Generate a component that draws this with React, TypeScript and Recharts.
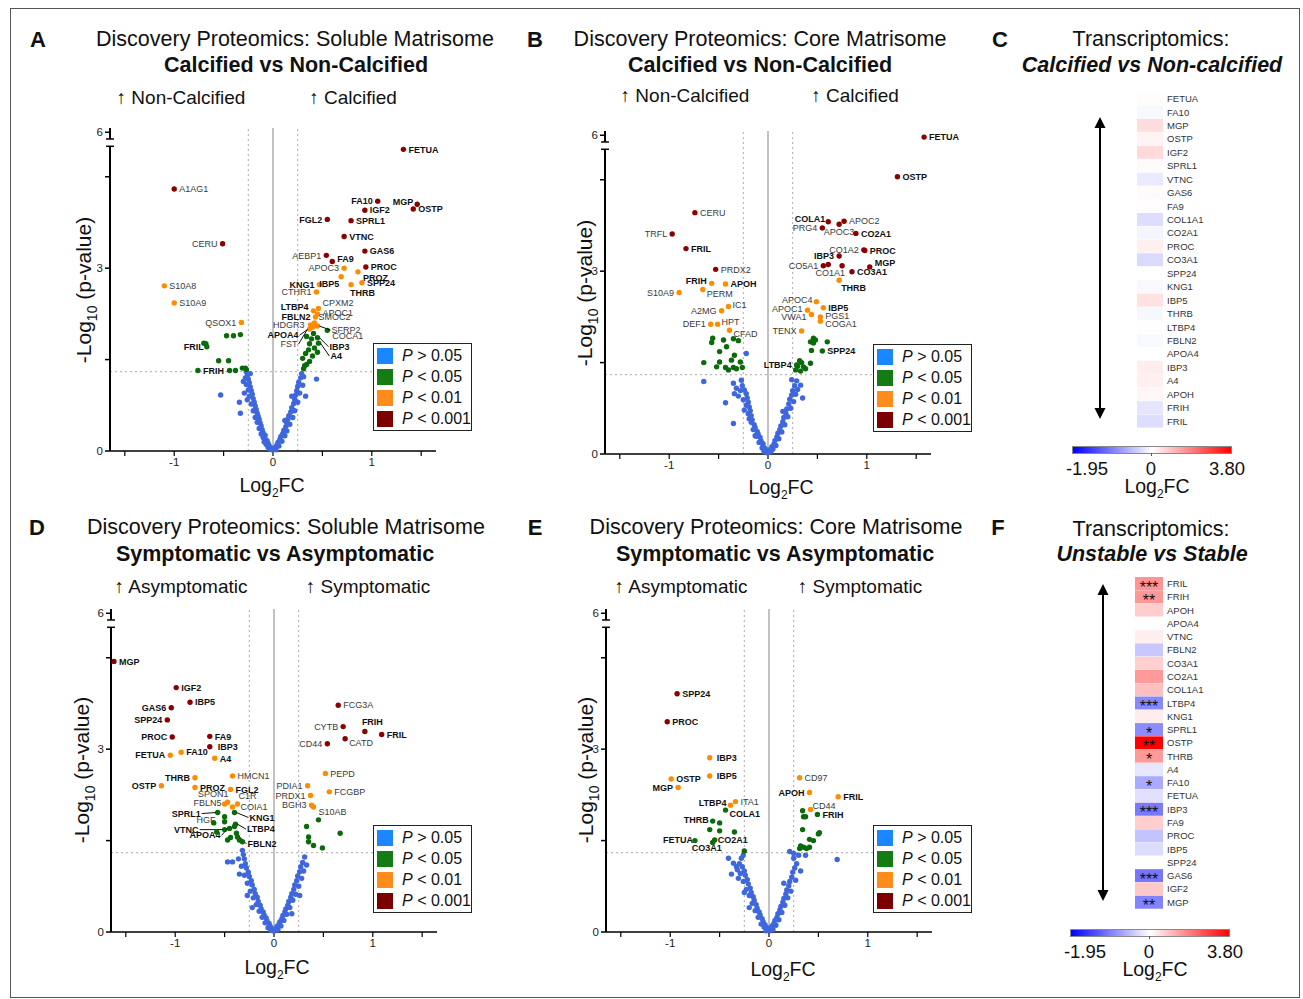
import React from 'react';
import { ScatterChart, Scatter, XAxis, YAxis, ReferenceLine, BarChart, Bar, Cell, LabelList } from 'recharts';

type Pt = [number, number, string?];
type Lay = [number, number, 'start' | 'middle' | 'end', boolean?];

const FONT = '"Liberation Sans", Arial, Helvetica, sans-serif';

const xTicks = [-1.5, -1, -0.5, 0, 0.5, 1, 1.5];
const xTickLabels = ['', '-1', '', '0', '', '1', ''];
const yTicks = [0, 1.5, 3, 4.5, 5.23];
const yTickLabels = ['0', '', '3', '', '6'];
const fcCut = 0.25;
const pCut = 1.301; // -log10(0.05)

const legendOps = ['>', '<', '<', '<'];
const legendCuts = ['0.05', '0.05', '0.01', '0.001'];

const boldGenes = [
  'FETUA', 'FA10', 'MGP', 'OSTP', 'IGF2', 'SPRL1', 'VTNC', 'GAS6', 'FA9', 'COL1A1', 'CO2A1', 'PROC', 'CO3A1',
  'SPP24', 'KNG1', 'IBP5', 'THRB', 'LTBP4', 'FBLN2', 'APOA4', 'IBP3', 'A4', 'APOH', 'FRIH', 'FRIL',
  'FGL2', 'PROZ', 'COLA1',
];

// ---- A: soluble matrisome, calcified vs non-calcified
const aRed: Pt[] = [
  [-1.0, 4.3, 'A1AG1'], [-0.51, 3.4, 'CERU'], [1.32, 4.95, 'FETUA'], [1.06, 4.1, 'FA10'], [1.46, 4.05, 'MGP'],
  [1.42, 3.97, 'OSTP'], [0.93, 3.95, 'IGF2'], [0.55, 3.8, 'FGL2'], [0.79, 3.78, 'SPRL1'], [0.72, 3.52, 'VTNC'],
  [0.93, 3.28, 'GAS6'], [0.54, 3.21, 'AEBP1'], [0.6, 3.11, 'FA9'], [0.94, 3.02, 'PROC'],
];
const aOrange: Pt[] = [
  [-1.1, 2.71, 'S10A8'], [-1.0, 2.43, 'S10A9'], [-0.32, 2.11, 'QSOX1'], [0.72, 3.0, 'APOC3'], [0.86, 2.94, 'PROZ'],
  [0.47, 2.73, 'KNG1'], [0.69, 2.86, 'IBP5'], [0.79, 2.73, 'THRB'], [0.9, 2.76, 'SPP24'], [0.44, 2.61, 'CTHR1'],
  [0.46, 2.34, 'CPXM2'], [0.41, 2.3, 'LTBP4'], [0.45, 2.25, 'APOC1'], [0.43, 2.2, 'FBLN2'], [0.38, 2.07, 'HDGR3'],
  [0.42, 2.1, 'SMOC2'], [0.45, 2.05, 'SFRP2'], [0.4, 2.03, 'APOA4'], [0.37, 2.0, 'FST'],
];
const aGreen: Pt[] = [
  [-0.7, 1.77], [-0.68, 1.76], [-0.67, 1.71, 'FRIL'], [-0.47, 1.89], [-0.4, 1.89], [-0.33, 1.91], [-0.55, 1.48],
  [-0.45, 1.48], [-0.76, 1.32, 'FRIH'], [-0.44, 1.32], [-0.38, 1.32], [-0.31, 1.36], [-0.28, 1.36], [-0.27, 1.34],
  [0.31, 1.35], [0.34, 1.42], [0.3, 1.52], [0.37, 1.47], [0.33, 1.6], [0.36, 1.66], [0.4, 1.56], [0.42, 1.69],
  [0.37, 1.76], [0.45, 1.62], [0.39, 1.84], [0.34, 1.88], [0.41, 1.93], [0.32, 1.4], [0.55, 1.98, 'COCA1'],
  [0.45, 1.86, 'IBP3'], [0.46, 1.77, 'A4'],
];
const aBlue: Pt[] = [
  [-0.01, 0.02], [-0.02, 0.05], [-0.03, 0.03], [-0.04, 0.09], [-0.05, 0.06], [-0.05, 0.13], [-0.06, 0.17], [-0.07, 0.11],
  [-0.08, 0.2], [-0.08, 0.26], [-0.09, 0.15], [-0.1, 0.3], [-0.1, 0.22], [-0.11, 0.35], [-0.12, 0.28], [-0.12, 0.41],
  [-0.13, 0.46], [-0.14, 0.37], [-0.14, 0.52], [-0.15, 0.57], [-0.16, 0.47], [-0.16, 0.62], [-0.17, 0.68], [-0.18, 0.55],
  [-0.18, 0.74], [-0.19, 0.8], [-0.2, 0.66], [-0.2, 0.86], [-0.21, 0.93], [-0.22, 0.77], [-0.22, 0.99], [-0.23, 1.05],
  [-0.24, 0.9], [-0.24, 1.12], [-0.25, 1.18], [-0.25, 1.0], [-0.26, 1.24], [-0.27, 1.09], [-0.27, 1.3], [-0.28, 1.2],
  [-0.29, 0.95], [-0.3, 1.14], [-0.33, 0.62], [-0.34, 0.8], [-0.53, 0.92], [-0.23, 1.27], [-0.26, 0.84],
  [0.01, 0.03], [0.02, 0.06], [0.03, 0.02], [0.04, 0.1], [0.05, 0.14], [0.06, 0.08], [0.07, 0.19], [0.08, 0.24],
  [0.09, 0.16], [0.1, 0.29], [0.11, 0.34], [0.12, 0.25], [0.13, 0.4], [0.14, 0.46], [0.14, 0.33], [0.15, 0.52],
  [0.16, 0.58], [0.17, 0.44], [0.18, 0.64], [0.19, 0.71], [0.2, 0.55], [0.21, 0.78], [0.22, 0.85], [0.22, 0.66],
  [0.23, 0.92], [0.24, 0.99], [0.25, 0.8], [0.25, 1.06], [0.26, 1.13], [0.27, 0.95], [0.28, 1.2], [0.29, 1.27],
  [0.3, 1.08], [0.31, 1.22], [0.33, 0.9], [0.44, 1.18], [0.19, 0.9], [0.12, 0.5],
];

// ---- B: core matrisome, calcified vs non-calcified
const bRed: Pt[] = [
  [-0.74, 3.96, 'CERU'], [-0.97, 3.61, 'TRFL'], [-0.83, 3.37, 'FRIL'], [-0.53, 3.03, 'PRDX2'], [1.58, 5.2, 'FETUA'],
  [1.31, 4.55, 'OSTP'], [0.61, 3.81, 'COLA1'], [0.77, 3.82, 'APOC2'], [0.72, 3.77, 'APOC3'], [0.55, 3.71, 'PRG4'],
  [0.89, 3.62, 'CO2A1'], [0.97, 3.35, 'CO1A2'], [0.98, 3.34, 'PROC'], [0.72, 3.25, 'IBP3'], [0.56, 3.09, 'CO5A1'],
  [0.61, 3.11], [0.75, 3.09, 'CO1A1'], [0.85, 2.99, 'CO3A1'], [1.03, 3.07, 'MGP'],
];
const bOrange: Pt[] = [
  [-0.57, 2.8, 'FRIH'], [-0.43, 2.79, 'APOH'], [-0.9, 2.65, 'S10A9'], [-0.66, 2.7, 'PERM'], [-0.4, 2.42, 'IC1'],
  [-0.47, 2.35, 'A2MG'], [-0.51, 2.13, 'HPT'], [-0.58, 2.13, 'DEF1'], [-0.39, 2.03, 'CFAD'], [0.72, 2.85, 'THRB'],
  [0.49, 2.5, 'APOC4'], [0.56, 2.4, 'IBP5'], [0.4, 2.36, 'APOC1'], [0.44, 2.29, 'VWA1'], [0.53, 2.25, 'PGS1'],
  [0.53, 2.18, 'COGA1'], [0.34, 2.02, 'TENX'],
];
const bGreen: Pt[] = [
  [-0.56, 1.9], [-0.45, 1.87], [-0.35, 1.89], [-0.3, 1.86], [-0.57, 1.83], [-0.65, 1.5], [-0.49, 1.68], [-0.42, 1.76],
  [-0.34, 1.62], [-0.49, 1.51], [-0.37, 1.54], [-0.28, 1.51], [-0.52, 1.43], [-0.43, 1.42], [-0.4, 1.38], [-0.35, 1.42],
  [-0.32, 1.4], [-0.26, 1.42],
  [0.46, 1.9], [0.48, 1.87], [0.43, 1.84], [0.46, 1.82], [0.6, 1.84], [0.44, 1.7], [0.55, 1.69, 'SPP24'],
  [0.32, 1.53], [0.34, 1.5], [0.3, 1.44], [0.36, 1.43], [0.43, 1.49], [0.29, 1.46, 'LTBP4'], [0.28, 1.38],
  [0.33, 1.36], [0.38, 1.4],
];
const bBlue: Pt[] = [
  [-0.01, 0.02], [-0.02, 0.05], [-0.03, 0.09], [-0.04, 0.04], [-0.05, 0.13], [-0.05, 0.17], [-0.06, 0.1], [-0.07, 0.21],
  [-0.08, 0.27], [-0.09, 0.19], [-0.1, 0.33], [-0.11, 0.37], [-0.12, 0.29], [-0.13, 0.43], [-0.14, 0.48], [-0.15, 0.4],
  [-0.16, 0.56], [-0.17, 0.63], [-0.17, 0.52], [-0.18, 0.71], [-0.19, 0.77], [-0.2, 0.66], [-0.2, 0.85], [-0.21, 0.92],
  [-0.22, 0.8], [-0.22, 0.99], [-0.24, 1.05], [-0.25, 0.89], [-0.26, 1.12], [-0.27, 1.21], [-0.28, 1.04], [-0.3, 0.95],
  [-0.32, 1.08], [-0.34, 0.99], [-0.35, 1.16], [-0.35, 0.5], [-0.43, 0.84], [-0.65, 1.19], [-0.22, 1.65], [-0.24, 0.72],
  [-0.13, 0.3], [-0.19, 0.58],
  [0.01, 0.03], [0.02, 0.07], [0.03, 0.04], [0.04, 0.12], [0.05, 0.08], [0.06, 0.16], [0.07, 0.22], [0.08, 0.14],
  [0.09, 0.28], [0.1, 0.34], [0.11, 0.25], [0.12, 0.4], [0.13, 0.46], [0.14, 0.36], [0.15, 0.53], [0.16, 0.6],
  [0.17, 0.48], [0.18, 0.67], [0.19, 0.74], [0.2, 0.61], [0.21, 0.82], [0.22, 0.9], [0.23, 0.75], [0.24, 0.97],
  [0.25, 1.04], [0.26, 0.86], [0.27, 1.12], [0.28, 0.98], [0.29, 1.2], [0.3, 1.06], [0.33, 1.13], [0.35, 0.92],
  [0.15, 0.7], [0.24, 1.22],
];

// ---- D: soluble matrisome, symptomatic vs asymptomatic
const dRed: Pt[] = [
  [-1.62, 4.44, 'MGP'], [-0.99, 4.01, 'IGF2'], [-0.85, 3.77, 'IBP5'], [-1.04, 3.68, 'GAS6'], [-1.08, 3.48, 'SPP24'],
  [-1.03, 3.2, 'PROC'], [-0.65, 3.21, 'FA9'], [-0.65, 3.04, 'IBP3'], [0.65, 3.72, 'FCG3A'], [0.7, 3.37, 'CYTB'],
  [0.92, 3.29, 'FRIH'], [1.09, 3.24, 'FRIL'], [0.54, 3.09, 'CD44'], [0.72, 3.17, 'CATD'],
];
const dOrange: Pt[] = [
  [-1.05, 2.9, 'FETUA'], [-0.94, 2.95, 'FA10'], [-0.6, 2.85, 'A4'], [-0.8, 2.53, 'THRB'], [-1.14, 2.4, 'OSTP'],
  [-0.8, 2.37, 'PROZ'], [-0.42, 2.56, 'HMCN1'], [-0.44, 2.34, 'FGL2'], [-0.47, 2.13, 'SPON1'], [-0.5, 2.1, 'FBLN5'],
  [-0.37, 2.1, 'C1R'], [-0.42, 2.05, 'COIA1'], [0.52, 2.6, 'PEPD'], [0.34, 2.4, 'PDIA1'], [0.56, 2.3, 'FCGBP'],
  [0.37, 2.24, 'PRDX1'], [0.38, 2.08, 'BGH3'], [0.4, 2.05, 'S10AB'],
];
const dGreen: Pt[] = [
  [-0.57, 1.96, 'SPRL1'], [-0.4, 1.96, 'KNG1'], [-0.5, 1.89, 'HGF'], [-0.5, 1.68, 'VTNC'], [-0.39, 1.77, 'LTBP4'],
  [-0.45, 1.7, 'APOA4'], [-0.37, 1.56, 'FBLN2'], [-0.61, 1.79], [-0.58, 1.64], [-0.5, 1.81], [-0.4, 1.73],
  [-0.38, 1.62], [-0.35, 1.51], [-0.32, 1.48], [-0.44, 1.55], [-0.47, 1.51],
  [0.45, 1.84], [0.33, 1.73], [0.67, 1.62], [0.35, 1.56], [0.35, 1.48], [0.4, 1.42], [0.49, 1.38],
];
const dBlue: Pt[] = [
  [-0.01, 0.02], [-0.02, 0.06], [-0.03, 0.03], [-0.04, 0.1], [-0.05, 0.14], [-0.06, 0.07], [-0.07, 0.18], [-0.08, 0.23],
  [-0.09, 0.15], [-0.1, 0.28], [-0.11, 0.33], [-0.12, 0.24], [-0.13, 0.38], [-0.14, 0.44], [-0.15, 0.34], [-0.16, 0.5],
  [-0.17, 0.57], [-0.18, 0.45], [-0.19, 0.63], [-0.2, 0.7], [-0.21, 0.56], [-0.22, 0.77], [-0.23, 0.84], [-0.24, 0.67],
  [-0.25, 0.91], [-0.26, 0.98], [-0.27, 0.8], [-0.28, 1.05], [-0.29, 1.12], [-0.3, 0.93], [-0.3, 1.2], [-0.31, 1.27],
  [-0.32, 1.34], [-0.33, 1.08], [-0.42, 1.15], [-0.47, 1.15], [-0.36, 1.2], [-0.22, 0.4], [-0.27, 0.6], [-0.35, 0.95],
  [0.01, 0.02], [0.02, 0.05], [0.03, 0.09], [0.04, 0.04], [0.05, 0.13], [0.06, 0.17], [0.07, 0.1], [0.08, 0.22],
  [0.09, 0.27], [0.1, 0.19], [0.11, 0.33], [0.12, 0.38], [0.13, 0.29], [0.14, 0.44], [0.15, 0.5], [0.16, 0.4],
  [0.17, 0.57], [0.18, 0.63], [0.19, 0.52], [0.2, 0.7], [0.21, 0.77], [0.22, 0.62], [0.23, 0.84], [0.24, 0.92],
  [0.25, 0.75], [0.26, 0.99], [0.27, 1.07], [0.28, 0.88], [0.29, 1.14], [0.31, 1.23], [0.3, 1.0], [0.33, 1.1],
  [0.18, 0.3], [0.26, 0.6],
];

// ---- E: core matrisome, symptomatic vs asymptomatic
const eRed: Pt[] = [[-0.93, 3.91, 'SPP24'], [-1.03, 3.45, 'PROC']];
const eOrange: Pt[] = [
  [-0.6, 2.86, 'IBP3'], [-0.6, 2.56, 'IBP5'], [-0.99, 2.51, 'OSTP'], [-0.92, 2.37, 'MGP'], [-0.39, 2.08, 'LTBP4'],
  [-0.34, 2.14, 'ITA1'], [0.31, 2.53, 'CD97'], [0.41, 2.29, 'APOH'], [0.7, 2.22, 'FRIL'], [0.42, 2.01, 'CD44'],
];
const eGreen: Pt[] = [
  [-0.44, 2.0, 'COLA1'], [-0.57, 1.82, 'THRB'], [-0.5, 1.79], [-0.6, 1.68], [-0.5, 1.66], [-0.35, 1.64],
  [-0.75, 1.5, 'FETUA'], [-0.55, 1.51, 'CO2A1'], [-0.57, 1.47, 'CO3A1'], [-0.25, 1.33],
  [0.49, 1.93, 'FRIH'], [0.34, 1.99], [0.35, 1.89], [0.37, 1.89], [0.34, 1.68], [0.5, 1.61], [0.51, 1.63],
  [0.41, 1.52], [0.45, 1.5], [0.32, 1.41], [0.35, 1.39], [0.38, 1.37], [0.41, 1.39], [0.31, 1.37],
];
const eBlue: Pt[] = [
  [-0.01, 0.03], [-0.02, 0.07], [-0.03, 0.02], [-0.04, 0.12], [-0.05, 0.08], [-0.06, 0.17], [-0.07, 0.22], [-0.08, 0.13],
  [-0.09, 0.28], [-0.1, 0.33], [-0.11, 0.24], [-0.12, 0.39], [-0.13, 0.45], [-0.14, 0.35], [-0.15, 0.52], [-0.16, 0.58],
  [-0.17, 0.47], [-0.18, 0.65], [-0.19, 0.72], [-0.2, 0.6], [-0.21, 0.79], [-0.22, 0.86], [-0.23, 0.7], [-0.24, 0.93],
  [-0.25, 1.0], [-0.26, 0.83], [-0.27, 1.07], [-0.28, 1.21], [-0.29, 0.96], [-0.3, 1.12], [-0.32, 1.02], [-0.33, 1.07],
  [-0.36, 1.13], [-0.41, 1.21], [-0.26, 1.26], [-0.31, 0.88], [-0.38, 0.95], [-0.2, 0.4], [-0.25, 0.65],
  [0.01, 0.02], [0.02, 0.06], [0.03, 0.1], [0.04, 0.04], [0.05, 0.14], [0.06, 0.19], [0.07, 0.11], [0.08, 0.24],
  [0.09, 0.3], [0.1, 0.2], [0.11, 0.36], [0.12, 0.42], [0.13, 0.32], [0.14, 0.49], [0.15, 0.55], [0.16, 0.44],
  [0.17, 0.62], [0.18, 0.69], [0.19, 0.56], [0.2, 0.76], [0.21, 0.83], [0.22, 0.67], [0.23, 0.9], [0.24, 0.98],
  [0.21, 1.32], [0.25, 1.29], [0.25, 1.21], [0.3, 1.26], [0.37, 1.26], [0.69, 1.19], [0.26, 1.05], [0.27, 0.85],
  [0.28, 1.12], [0.15, 0.8], [0.32, 1.0],
];

// ---- C / F: transcriptomics heatmaps
const cGenes = ['FETUA', 'FA10', 'MGP', 'OSTP', 'IGF2', 'SPRL1', 'VTNC', 'GAS6', 'FA9', 'COL1A1', 'CO2A1', 'PROC',
  'CO3A1', 'SPP24', 'KNG1', 'IBP5', 'THRB', 'LTBP4', 'FBLN2', 'APOA4', 'IBP3', 'A4', 'APOH', 'FRIH', 'FRIL'];
const cLog2FC = [0.04, -0.05, 0.5, 0.18, 0.55, 0.06, -0.15, 0.06, 0.03, -0.26, -0.08, 0.22, -0.28, 0.0, -0.05, 0.45,
  -0.06, 0.03, -0.05, 0.0, 0.28, 0.22, 0.12, -0.2, -0.26];

const fGenes = ['FRIL', 'FRIH', 'APOH', 'APOA4', 'VTNC', 'FBLN2', 'CO3A1', 'CO2A1', 'COL1A1', 'LTBP4', 'KNG1', 'SPRL1',
  'OSTP', 'THRB', 'A4', 'FA10', 'FETUA', 'IBP3', 'FA9', 'PROC', 'IBP5', 'SPP24', 'GAS6', 'IGF2', 'MGP'];
const fLog2FC = [1.6, 1.55, 0.75, 0.03, 0.25, -0.42, 0.72, 1.5, 0.95, -0.9, 0.28, -0.88, 3.8, 1.5, -0.19, -0.65, -0.23,
  -1.02, 0.72, -0.46, -0.27, 0.02, -1.05, 0.82, -0.95];
const fSig = ['***', '**', '', '', '', '', '', '', '', '***', '', '*', '**', '*', '', '*', '', '***', '', '', '', '',
  '***', '', '**'];

const BLUE = '#3f67dd';
const GREEN = '#0b6b0b';
const ORANGE = '#ff8c00';
const RED = '#8b0000';
const legendColors = ['#1a86ff', '#137d13', '#ff8c1a', '#7d0000'];

const R: Lay = [5, 3.2, 'start'];
const L: Lay = [-5, 3.2, 'end'];

const aLayout: Record<string, Lay> = {
  A1AG1: R, CERU: L, S10A8: R, S10A9: R, QSOX1: L, FRIL: [-3, 3.2, 'end'], FRIH: R,
  FETUA: R, FA10: L, MGP: [-4, 1, 'end'], OSTP: R, IGF2: R, FGL2: L, SPRL1: R, VTNC: R, GAS6: R, AEBP1: L,
  FA9: [5, 1, 'start'], PROC: R, APOC3: L, PROZ: [5, 9, 'start'], KNG1: L, IBP5: [-2, 10.5, 'end'],
  THRB: [-1, 11, 'start'], SPP24: R, CTHR1: L, CPXM2: [4, -2, 'start'], LTBP4: [-5, -1, 'end'], APOC1: [5, 2.5, 'start'],
  FBLN2: L, HDGR3: [-6, 3, 'end'], SMOC2: [4, -3, 'start'], SFRP2: [14, 7, 'start', true], APOA4: [-14, 11, 'end', true],
  FST: [-12, 18, 'end', true], COCA1: [5, 9, 'start'], IBP3: [12, 12, 'start', true], A4: [12, 16, 'start', true],
};
const bLayout: Record<string, Lay> = {
  CERU: R, TRFL: L, FRIL: R, PRDX2: R, FRIH: [-5, 1, 'end'], APOH: R, S10A9: L, PERM: [4, 8, 'start'],
  IC1: [4, 1, 'start'], A2MG: L, HPT: [4, 1, 'start'], DEF1: L, CFAD: [4, 7, 'start'],
  FETUA: R, OSTP: R, COLA1: [-3, 0, 'end'], APOC2: R, PRG4: L, APOC3: [0, 10.5, 'middle'], CO2A1: R, PROC: R,
  IBP3: L, CO1A2: L, CO5A1: L, CO1A1: [3, 10, 'end'], CO3A1: R, MGP: [5, -1, 'start'], THRB: [2, 11, 'start'],
  APOC4: [-4, 1, 'end'], IBP5: R, APOC1: [-5, 1.5, 'end'], VWA1: [-5, 6, 'end'], PGS1: [5, 2, 'start'],
  COGA1: [5, 6, 'start'], TENX: L, SPP24: R, LTBP4: L,
};
const dLayout: Record<string, Lay> = {
  MGP: R, IGF2: R, IBP5: R, GAS6: L, SPP24: L, PROC: L, FA9: R, IBP3: [8, 3.2, 'start'], FETUA: L, FA10: R, A4: R,
  THRB: L, OSTP: L, PROZ: R, HMCN1: R, FGL2: R, SPON1: [1, -5, 'end'], FBLN5: [-3, 2, 'end'],
  C1R: [1, -5, 'start'], COIA1: [8, 3, 'start'], SPRL1: [-17, 4, 'end', true], HGF: [-9, 6.6, 'end'],
  KNG1: [15, 8, 'start', true], VTNC: [-26, 3, 'end', true], LTBP4: [11.5, 8, 'start', true],
  APOA4: [-9, 10, 'end', true], FBLN2: [10, 10, 'start', true],
  FCG3A: R, CYTB: L, FRIH: [-3, -6, 'start'], FRIL: R, CD44: L, CATD: [4, 7, 'start'], PEPD: R, PDIA1: L,
  FCGBP: R, PRDX1: L, BGH3: L, S10AB: [5, 8, 'start'],
};
const eLayout: Record<string, Lay> = {
  SPP24: R, PROC: R, IBP3: [7, 3.2, 'start'], IBP5: [7, 3.2, 'start'], OSTP: R, MGP: L, LTBP4: [-4, 1, 'end'],
  ITA1: R, COLA1: [4, 6.5, 'start'], THRB: [-4, 2, 'end'], FETUA: [-2, 2, 'end'], CO2A1: [3, 3, 'start'],
  CO3A1: [-6, 9, 'middle'], CD97: R, APOH: L, FRIL: R, CD44: [2, -1, 'start'], FRIH: R,
};

const toPts = (a: Pt[]) => a.map(([x, y, name]) => ({ x, y, name }));

const heatColor = (v: number) => {
  if (v < 0) {
    const t = Math.min(1, -v / 1.95);
    const c = Math.round(255 * (1 - t));
    return `rgb(${c},${c},255)`;
  }
  const t = Math.min(1, v / 3.8);
  const c = Math.round(255 * (1 - t));
  return `rgb(255,${c},${c})`;
};

const dotShape = (color: string, layout: Record<string, Lay>) => (props: any) => {
  const { cx, cy, payload } = props;
  if (cx == null || cy == null) return <g />;
  const name: string | undefined = payload && payload.name;
  let label = null;
  if (name) {
    const [dx, dy, anchor, leader] = layout[name] || R;
    const bold = boldGenes.includes(name);
    const tx = cx + dx;
    const ty = cy + dy;
    label = (
      <g>
        {leader && (
          <line x1={cx + (dx > 0 ? 2 : -2)} y1={cy} x2={tx + (anchor === 'end' ? 1 : -1)} y2={ty - 3}
            stroke="#111" strokeWidth={1} />
        )}
        <text x={tx} y={ty} textAnchor={anchor} fontSize={9} fontWeight={bold ? 700 : 400}
          fill={bold ? '#111' : '#3a3a3a'} fontFamily={FONT}>{name}</text>
      </g>
    );
  }
  return (
    <g>
      <circle cx={cx} cy={cy} r={2.7} fill={color} />
      {label}
    </g>
  );
};

const Txt = ({ x, y, size = 19, bold = false, italic = false, children }: any) => (
  <div style={{
    position: 'absolute', left: x, top: y, transform: 'translate(-50%, -50%)', fontSize: size,
    fontWeight: bold ? 700 : 400, fontStyle: italic ? 'italic' : 'normal', whiteSpace: 'nowrap', lineHeight: 1.1,
  }}>{children}</div>
);

const YTitle = ({ x, y }: any) => (
  <div style={{
    position: 'absolute', left: x, top: y, transform: 'translate(-50%, -50%) rotate(-90deg)', fontSize: 21,
    whiteSpace: 'nowrap',
  }}>-Log<sub style={{ fontSize: 14 }}>10</sub> (p-value)</div>
);

const Log2FC = ({ x, y }: any) => (
  <Txt x={x} y={y} size={19.5}>Log<sub style={{ fontSize: 12 }}>2</sub>FC</Txt>
);

const PLegend = ({ x, y }: any) => (
  <div style={{
    position: 'absolute', left: x, top: y, width: 97, height: 86, border: '1.5px solid #222', background: '#fff',
  }}>
    {legendOps.map((op, i) => (
      <div key={i} style={{
        position: 'absolute', left: 3, top: 4 + i * 21, display: 'flex', alignItems: 'center', whiteSpace: 'nowrap',
      }}>
        <div style={{ width: 16, height: 16, background: legendColors[i], flexShrink: 0 }} />
        <div style={{ marginLeft: 9, fontSize: 16, lineHeight: 1, whiteSpace: 'nowrap' }}>
          <i>P</i> {op} {legendCuts[i]}
        </div>
      </div>
    ))}
  </div>
);

const Volcano = ({ left, top, blue, green, orange, red, layout }: any) => (
  <div style={{ position: 'absolute', left, top }}>
    <ScatterChart width={402} height={369} margin={{ top: 10, right: 40, bottom: 0, left: 0 }}>
      <XAxis type="number" dataKey="x" domain={[-1.65, 1.65]} ticks={xTicks} interval={0}
        tickFormatter={(v: number) => xTickLabels[xTicks.indexOf(v)] ?? ''} height={36}
        axisLine={{ stroke: '#000', strokeWidth: 1.5 }} tickLine={{ stroke: '#000', strokeWidth: 1.2 }} tickSize={5}
        tick={{ fontSize: 11.5, fill: '#222' }} />
      <YAxis type="number" dataKey="y" domain={[0, 5.3]} ticks={yTicks} interval={0}
        tickFormatter={(v: number) => yTickLabels[yTicks.indexOf(v)] ?? ''} width={36}
        axisLine={false} tickLine={{ stroke: '#000', strokeWidth: 1.5 }} tickSize={5}
        tick={{ fontSize: 11.5, fill: '#222' }} />
      <ReferenceLine x={0} stroke="#999" strokeWidth={1.2} />
      <ReferenceLine x={-fcCut} stroke="#aaa" strokeDasharray="2 3" />
      <ReferenceLine x={fcCut} stroke="#aaa" strokeDasharray="2 3" />
      <ReferenceLine y={pCut} stroke="#aaa" strokeDasharray="2 3" />
      <ReferenceLine segment={[{ x: -1.65, y: 0 }, { x: -1.65, y: 5 }]} stroke="#000" strokeWidth={2} ifOverflow="visible" />
      <ReferenceLine segment={[{ x: -1.65, y: 5.12 }, { x: -1.65, y: 5.3 }]} stroke="#000" strokeWidth={2} ifOverflow="visible" />
      <ReferenceLine segment={[{ x: -1.69, y: 5 }, { x: -1.61, y: 5 }]} stroke="#000" strokeWidth={1.5} ifOverflow="visible" />
      <ReferenceLine segment={[{ x: -1.69, y: 5.12 }, { x: -1.61, y: 5.12 }]} stroke="#000" strokeWidth={1.5} ifOverflow="visible" />
      <Scatter data={toPts(blue)} fill={BLUE} shape={dotShape(BLUE, layout)} isAnimationActive={false} />
      <Scatter data={toPts(green)} fill={GREEN} shape={dotShape(GREEN, layout)} isAnimationActive={false} />
      <Scatter data={toPts(orange)} fill={ORANGE} shape={dotShape(ORANGE, layout)} isAnimationActive={false} />
      <Scatter data={toPts(red)} fill={RED} shape={dotShape(RED, layout)} isAnimationActive={false} />
    </ScatterChart>
  </div>
);

const renderStars = (props: any) => {
  const { x, y, width, height, value } = props;
  if (!value) return null;
  return (
    <text x={x + width / 2} y={y + height / 2 + 9} textAnchor="middle" fontSize={16} fill="#111" fontFamily={FONT}>
      {value}
    </text>
  );
};

const Heat = ({ left, top, width, height, genes, values, sig }: any) => {
  const data = genes.map((g: string, i: number) => ({ name: g, v: values[i], one: 1, sig: sig ? sig[i] : '' }));
  return (
    <div style={{ position: 'absolute', left, top }}>
      <BarChart layout="vertical" width={width + 60} height={height + 8} data={data}
        margin={{ top: 0, right: 0, bottom: 8, left: 0 }} barCategoryGap={0}>
        <XAxis type="number" domain={[0, 1]} hide />
        <YAxis type="category" dataKey="name" orientation="right" width={60} axisLine={false} tickLine={false}
          tickSize={0} tickMargin={4} interval={0} tick={{ fontSize: 9.5, fill: '#333' }} />
        <Bar dataKey="one" isAnimationActive={false}>
          {data.map((d: any) => <Cell key={d.name} fill={heatColor(d.v)} />)}
          {sig && <LabelList dataKey="sig" content={renderStars} />}
        </Bar>
      </BarChart>
    </div>
  );
};

const ColorBar = ({ left, top, labelY, titleY }: any) => (
  <>
    <div style={{
      position: 'absolute', left, top, width: 158, height: 6, border: '1px solid #888',
      background: 'linear-gradient(to right, #0000ff, #ffffff 50%, #ff0000)',
    }} />
    <div style={{ position: 'absolute', left: left + 79, top: top + 7, width: 1, height: 3, background: '#555' }} />
    <Txt x={left + 15} y={labelY} size={18.5}>-1.95</Txt>
    <Txt x={left + 79} y={labelY} size={18.5}>0</Txt>
    <Txt x={left + 155} y={labelY} size={18.5}>3.80</Txt>
    <Log2FC x={left + 85} y={titleY} />
  </>
);

const Arrow = ({ x, y1, y2 }: any) => (
  <svg style={{ position: 'absolute', left: x - 7, top: y1 }} width={14} height={y2 - y1}>
    <line x1={7} y1={8} x2={7} y2={y2 - y1 - 8} stroke="#000" strokeWidth={2} />
    <polygon points={`7,0 1.5,11 12.5,11`} fill="#000" />
    <polygon points={`7,${y2 - y1} 1.5,${y2 - y1 - 11} 12.5,${y2 - y1 - 11}`} fill="#000" />
  </svg>
);

const App: React.FC = () => {
  return (
    <div style={{
      position: 'absolute', left: 0, top: 0, width: 1303, height: 999, background: '#fff', fontFamily: FONT,
      color: '#111', overflow: 'hidden',
    }}>
      <div style={{ position: 'absolute', left: 10, top: 8, width: 1288, height: 988, border: '1px solid #555' }} />

      {/* titles */}
      <Txt x={38} y={40} size={22} bold>A</Txt>
      <Txt x={295} y={40} size={21.5}>Discovery Proteomics: Soluble Matrisome</Txt>
      <Txt x={296} y={66} size={21.5} bold>Calcified vs Non-Calcified</Txt>
      <Txt x={181} y={98}>↑ Non-Calcified</Txt>
      <Txt x={353} y={98}>↑ Calcified</Txt>

      <Txt x={535} y={40} size={22} bold>B</Txt>
      <Txt x={760} y={40} size={21.5}>Discovery Proteomics: Core Matrisome</Txt>
      <Txt x={760} y={66} size={21.5} bold>Calcified vs Non-Calcified</Txt>
      <Txt x={685} y={96}>↑ Non-Calcified</Txt>
      <Txt x={855} y={96}>↑ Calcified</Txt>

      <Txt x={1000} y={40} size={22} bold>C</Txt>
      <Txt x={1151} y={40} size={21.5}>Transcriptomics:</Txt>
      <Txt x={1152} y={66} size={21.5} bold italic>Calcified vs Non-calcified</Txt>

      <Txt x={37} y={528} size={22} bold>D</Txt>
      <Txt x={286} y={528} size={21.5}>Discovery Proteomics: Soluble Matrisome</Txt>
      <Txt x={275} y={555} size={21.5} bold>Symptomatic vs Asymptomatic</Txt>
      <Txt x={181} y={587}>↑ Asymptomatic</Txt>
      <Txt x={368} y={587}>↑ Symptomatic</Txt>

      <Txt x={535} y={528} size={22} bold>E</Txt>
      <Txt x={776} y={528} size={21.5}>Discovery Proteomics: Core Matrisome</Txt>
      <Txt x={775} y={555} size={21.5} bold>Symptomatic vs Asymptomatic</Txt>
      <Txt x={681} y={587}>↑ Asymptomatic</Txt>
      <Txt x={860} y={587}>↑ Symptomatic</Txt>

      <Txt x={998} y={528} size={22} bold>F</Txt>
      <Txt x={1151} y={530} size={21.5}>Transcriptomics:</Txt>
      <Txt x={1152} y={555} size={21.5} bold italic>Unstable vs Stable</Txt>

      {/* volcano plots */}
      <Volcano left={74} top={118} blue={aBlue} green={aGreen} orange={aOrange} red={aRed} layout={aLayout} />
      <Volcano left={569} top={121} blue={bBlue} green={bGreen} orange={bOrange} red={bRed} layout={bLayout} />
      <Volcano left={75} top={599} blue={dBlue} green={dGreen} orange={dOrange} red={dRed} layout={dLayout} />
      <Volcano left={570} top={599} blue={eBlue} green={eGreen} orange={eOrange} red={eRed} layout={eLayout} />

      <YTitle x={86} y={290} />
      <YTitle x={587} y={293} />
      <YTitle x={84} y={770} />
      <YTitle x={588} y={770} />

      <Log2FC x={272} y={488} />
      <Log2FC x={781} y={490} />
      <Log2FC x={277} y={970} />
      <Log2FC x={783} y={972} />

      <PLegend x={373} y={343} />
      <PLegend x={873} y={344} />
      <PLegend x={373} y={825} />
      <PLegend x={873} y={825} />

      {/* heatmaps */}
      <Heat left={1137} top={92} width={26} height={336} genes={cGenes} values={cLog2FC} />
      <Arrow x={1100} y1={117} y2={419} />
      <ColorBar left={1072} top={446} labelY={469} titleY={489} />

      <Heat left={1135} top={577} width={28} height={332} genes={fGenes} values={fLog2FC} sig={fSig} />
      <Arrow x={1103} y1={584} y2={901} />
      <ColorBar left={1070} top={929} labelY={952} titleY={972} />
    </div>
  );
};

export default App;
